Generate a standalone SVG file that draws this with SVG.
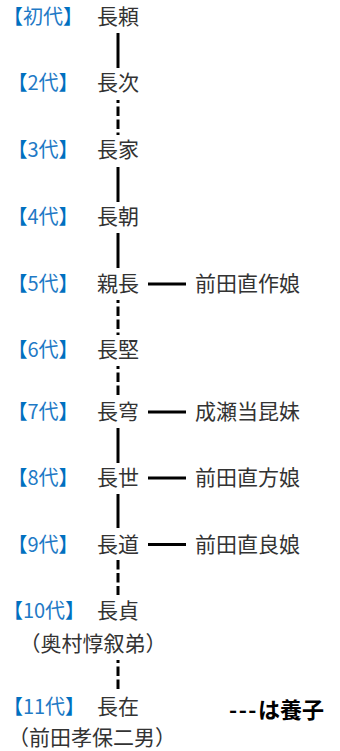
<svg xmlns="http://www.w3.org/2000/svg" width="340" height="751" viewBox="0 0 340 751">
<style>
text{font-family:"Noto Sans CJK JP","Noto Sans",sans-serif;font-size:20px}
.gen{fill:#1f7ac6;text-anchor:middle}
.br{fill:#0070c0}
.nm{fill:#333;text-anchor:middle;font-size:21px}
.sp{fill:#333;text-anchor:start;font-size:21px}
.solid{stroke:#000;stroke-width:3;fill:none}
.dash{stroke:#000;stroke-width:3;fill:none;stroke-dasharray:9.5 3.5;stroke-dashoffset:6.5}
.legend{fill:#000;font-weight:bold;text-anchor:start;font-size:22px}
</style>
<g id="connectors">
<line class="solid" x1="118" y1="33" x2="118" y2="68"/>
<line class="dash" x1="118" y1="100" x2="118" y2="135"/>
<line class="solid" x1="118" y1="167" x2="118" y2="202"/>
<line class="solid" x1="118" y1="233" x2="118" y2="268"/>
<line class="dash" x1="118" y1="300" x2="118" y2="335"/>
<line class="dash" x1="118" y1="366" x2="118" y2="395"/>
<line class="solid" x1="118" y1="428" x2="118" y2="463"/>
<line class="solid" x1="118" y1="494" x2="118" y2="528"/>
<line class="dash" x1="118" y1="560" x2="118" y2="595" style="stroke-dashoffset:0"/>
<line class="dash" x1="118" y1="660" x2="118" y2="689"/>
<line class="solid" x1="148" y1="284" x2="186" y2="284"/>
<line class="solid" x1="148" y1="412" x2="186" y2="412"/>
<line class="solid" x1="148" y1="478" x2="186" y2="478"/>
<line class="solid" x1="148" y1="544.5" x2="186" y2="544.5"/>
</g>
<g id="gen1"><text class="gen" x="43" y="23.5"><tspan class="br">【</tspan>初代<tspan class="br">】</tspan></text><text class="nm" x="118" y="24">長頼</text></g>
<g id="gen2"><text class="gen" x="43" y="89.5"><tspan class="br">【</tspan>2代<tspan class="br">】</tspan></text><text class="nm" x="118" y="90">長次</text></g>
<g id="gen3"><text class="gen" x="43" y="156.5"><tspan class="br">【</tspan>3代<tspan class="br">】</tspan></text><text class="nm" x="118" y="157">長家</text></g>
<g id="gen4"><text class="gen" x="43" y="223.5"><tspan class="br">【</tspan>4代<tspan class="br">】</tspan></text><text class="nm" x="118" y="224">長朝</text></g>
<g id="gen5"><text class="gen" x="43" y="290.5"><tspan class="br">【</tspan>5代<tspan class="br">】</tspan></text><text class="nm" x="118" y="291">親長</text></g>
<g id="spouse5"><text class="sp" x="195" y="291">前田直作娘</text></g>
<g id="gen6"><text class="gen" x="43" y="356.5"><tspan class="br">【</tspan>6代<tspan class="br">】</tspan></text><text class="nm" x="118" y="357">長堅</text></g>
<g id="gen7"><text class="gen" x="43" y="418.5"><tspan class="br">【</tspan>7代<tspan class="br">】</tspan></text><text class="nm" x="118" y="419">長穹</text></g>
<g id="spouse7"><text class="sp" x="195" y="419">成瀬当昆妹</text></g>
<g id="gen8"><text class="gen" x="43" y="484.5"><tspan class="br">【</tspan>8代<tspan class="br">】</tspan></text><text class="nm" x="118" y="485">長世</text></g>
<g id="spouse8"><text class="sp" x="195" y="485">前田直方娘</text></g>
<g id="gen9"><text class="gen" x="43" y="551.5"><tspan class="br">【</tspan>9代<tspan class="br">】</tspan></text><text class="nm" x="118" y="552">長道</text></g>
<g id="spouse9"><text class="sp" x="195" y="552">前田直良娘</text></g>
<g id="gen10"><text class="gen" x="44" y="617.5"><tspan class="br">【</tspan>10代<tspan class="br">】</tspan></text><text class="nm" x="118" y="618">長貞</text><text class="nm" x="93" y="651">（奥村惇叙弟）</text></g>
<g id="gen11"><text class="gen" x="44" y="713.5"><tspan class="br">【</tspan>11代<tspan class="br">】</tspan></text><text class="nm" x="118" y="714">長在</text><text class="nm" x="92" y="744.5">（前田孝保二男）</text></g>
<g id="legend"><text class="legend" x="229" y="718"><tspan letter-spacing="1.5">---</tspan>は養子</text></g>
</svg>
